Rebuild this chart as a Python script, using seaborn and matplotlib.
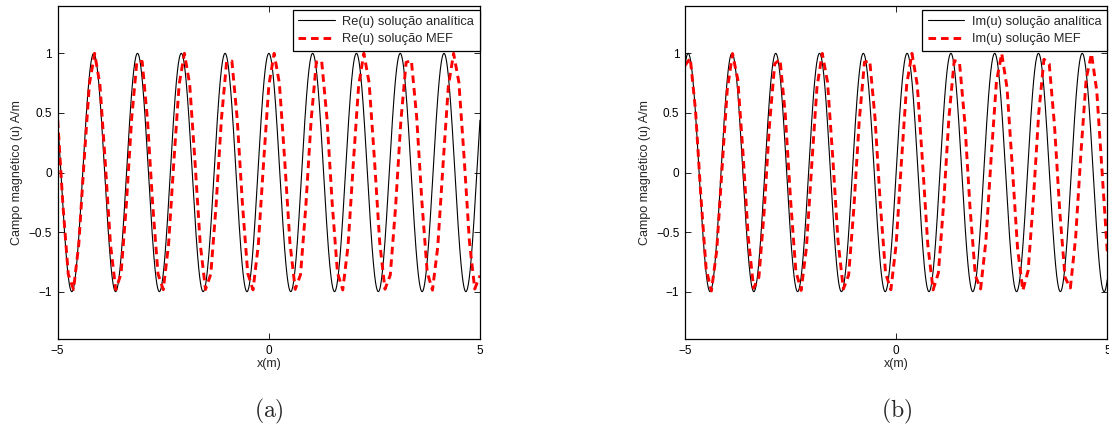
import numpy as np
import pandas as pd
import matplotlib
matplotlib.use("Agg")
import matplotlib.pyplot as plt
import seaborn as sns

# ---- data -----------------------------------------------------------------
x_limits = [-5, 5]
y_limits = [-1.4, 1.4]
wavenumber = 6.06          # k (rad/m) of the analytical solution u = exp(j k x)
mesh_step = 0.125          # FEM element length (m)
phase_lag_re = 1.5         # FEM phase lag accumulated at x = 5 (rad), Re(u)
phase_lag_im = 1.3         # FEM phase lag accumulated at x = 5 (rad), Im(u)
x_ticks = [-5, 0, 5]
x_tick_labels = ["−5", "0", "5"]
y_ticks = [-1, -0.5, 0, 0.5, 1]
y_tick_labels = ["−1", "−0.5", "0", "0.5", "1"]
panel_labels = ["(a)", "(b)"]
legend_re = ["Re(u) solução analítica", "Re(u) solução MEF"]
legend_im = ["Im(u) solução analítica", "Im(u) solução MEF"]
x_label = "x(m)"
y_label = "Campo magnético (u) A/m"

# ---- curves ---------------------------------------------------------------
x_fine = np.linspace(x_limits[0], x_limits[1], 3001)
x_nodes = np.arange(x_limits[0], x_limits[1] + mesh_step / 2, mesh_step)
span = x_limits[1] - x_limits[0]

exact = pd.DataFrame({
    "x": x_fine,
    "re": np.cos(wavenumber * x_fine),
    "im": np.sin(wavenumber * x_fine),
})
theta_re = wavenumber * x_nodes - phase_lag_re * (x_nodes - x_limits[0]) / span
theta_im = wavenumber * x_nodes - phase_lag_im * (x_nodes - x_limits[0]) / span
fem = pd.DataFrame({
    "x": x_nodes,
    "re": np.cos(theta_re),
    "im": np.sin(theta_im),
})

# ---- style ----------------------------------------------------------------
sns.set_theme(style="ticks")
plt.rcParams["font.family"] = ["Liberation Sans", "DejaVu Sans"]
plt.rcParams["mathtext.fontset"] = "cm"
plt.rcParams["axes.linewidth"] = 0.8
plt.rcParams["axes.edgecolor"] = "black"

W, H = 1109, 430
fig = plt.figure(figsize=(W / 100, H / 100), dpi=100)
ax_w = 422.3 / W
ax_b = 1 - 339.3 / H
ax_h = (339.3 - 5.7) / H
axes = [fig.add_axes([57.7 / W, ax_b, ax_w, ax_h]),
        fig.add_axes([685.0 / W, ax_b, ax_w, ax_h])]

panels = [("re", legend_re), ("im", legend_im)]
for ax, (col, names), tag in zip(axes, panels, panel_labels):
    sns.lineplot(data=exact, x="x", y=col, ax=ax, color="black",
                 linewidth=0.8, estimator=None, sort=False)
    sns.lineplot(data=fem, x="x", y=col, ax=ax, color="#ff0000",
                 linewidth=2.1, estimator=None, sort=False, linestyle="--")
    exact_line, fem_line = ax.lines[0], ax.lines[1]
    fem_line.set_dashes((2.6, 1.7))

    ax.set_xlim(*x_limits)
    ax.set_ylim(*y_limits)
    ax.set_xticks(x_ticks)
    ax.set_xticklabels(x_tick_labels)
    ax.set_yticks(y_ticks)
    ax.set_yticklabels(y_tick_labels)
    ax.tick_params(direction="in", length=4, width=0.6, top=True, right=True,
                   labelsize=8.5, colors="black", pad=4)
    for s in ax.spines.values():
        s.set_visible(True)
        s.set_color("black")
        s.set_linewidth(0.9)
    ax.set_xlabel(x_label, fontsize=9, labelpad=1)
    ax.set_ylabel(y_label, fontsize=9, labelpad=4)
    ax.grid(False)

    leg = ax.legend([exact_line, fem_line], names, loc="upper right",
                    bbox_to_anchor=(0.999, 0.987), borderaxespad=0,
                    fontsize=9.3, frameon=True, fancybox=False, framealpha=1,
                    edgecolor="black", handlelength=2.8, handletextpad=0.6,
                    labelspacing=0.45, borderpad=0.42)
    leg.get_frame().set_linewidth(0.9)

    pos = ax.get_position()
    fig.text(pos.x0 + pos.width / 2, 1 - 411 / H, r"$\mathrm{" + tag + r"}$",
             ha="center", va="center", fontsize=17)

fig.savefig("out.png", dpi=100)
